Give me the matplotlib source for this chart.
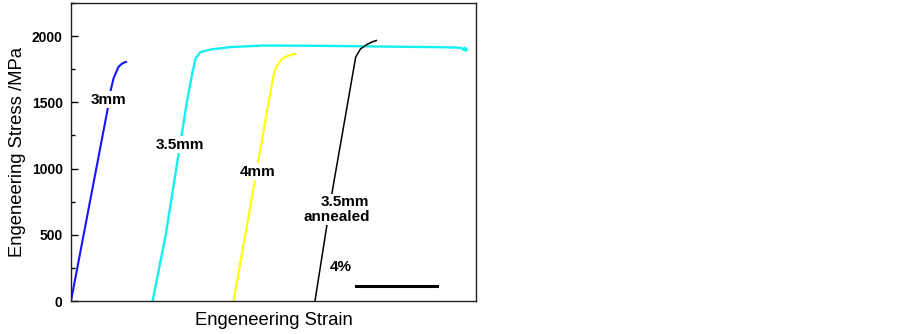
import matplotlib
matplotlib.use("Agg")
import matplotlib.pyplot as plt
from matplotlib.ticker import MultipleLocator

plt.rcParams['font.family'] = ['Liberation Sans', 'DejaVu Sans']

# strain in %, stress in MPa
blue_strain = [0.0, 1.25, 1.8, 1.96, 2.1, 2.34, 2.5, 2.62, 2.72]
blue_stress = [0, 1000, 1440, 1590, 1680, 1766, 1790, 1800, 1805]

cyan_strain = [4.03, 4.68, 5.2, 5.45, 5.72, 6.0, 6.15, 6.39, 6.9, 7.87, 9.5,
               12.0, 14.0, 16.0, 18.0, 19.0, 19.3, 19.4, 19.45, 19.5, 19.55]
cyan_stress = [0, 500, 1000, 1238, 1500, 1728, 1830, 1879, 1899, 1917, 1929,
               1927, 1924, 1920, 1917, 1914, 1910, 1895, 1912, 1890, 1900]

yellow_strain = [8.03, 8.61, 9.27, 9.76, 10.0, 10.13, 10.43, 10.7, 10.9, 11.09]
yellow_stress = [0, 500, 1073, 1500, 1700, 1766, 1829, 1850, 1860, 1867]

black_strain = [12.05, 12.6, 12.94, 13.5, 14.06, 14.3, 14.6, 14.85, 15.08]
black_stress = [0, 535, 861, 1350, 1842, 1904, 1935, 1955, 1967]

scale_bar_strain = [14.1, 18.1]
scale_bar_stress = [113, 113]

fig = plt.figure(figsize=(9.03, 3.34), dpi=100)
ax = fig.add_axes([0.0786, 0.0988, 0.4485, 0.8922])

ax.plot(blue_strain, blue_stress, color='#1414ff', lw=1.5)
ax.plot(cyan_strain, cyan_stress, color='#14f0f0', lw=1.7)
ax.plot(yellow_strain, yellow_stress, color='#ffff00', lw=1.5)
ax.plot(black_strain, black_stress, color='black', lw=1.1)
ax.plot(scale_bar_strain, scale_bar_stress, color='black', lw=2.2)

lab = dict(fontsize=11, fontweight='bold', va='center',
           bbox=dict(facecolor='white', edgecolor='none', pad=1.0))
ax.text(1.85, 1520, '3mm', ha='center', **lab)
ax.text(5.4, 1180, '3.5mm', ha='center', **lab)
ax.text(9.2, 975, '4mm', ha='center', **lab)
ax.text(14.75, 690, '3.5mm\nannealed', ha='right', multialignment='right',
        linespacing=1.05, **lab)
ax.text(13.32, 255, '4%', ha='center', **lab)

ax.set_xlim(0, 20)
ax.set_ylim(0, 2250)
ax.set_xticks([])
ax.yaxis.set_major_locator(MultipleLocator(500))
ax.yaxis.set_minor_locator(MultipleLocator(250))
ax.tick_params(axis='y', which='major', direction='in', length=5, width=1, labelsize=10, pad=6)
ax.tick_params(axis='y', which='minor', direction='in', length=3, width=1)
for t in ax.get_yticklabels():
    t.set_fontweight('bold')
for s in ax.spines.values():
    s.set_linewidth(1.0)
    s.set_color('#222222')

ax.set_ylabel('Engeneering Stress /MPa', fontsize=13.3, labelpad=4)
ax.set_xlabel('Engeneering Strain', fontsize=13.3, labelpad=8)

fig.savefig('out.png', dpi=100)
